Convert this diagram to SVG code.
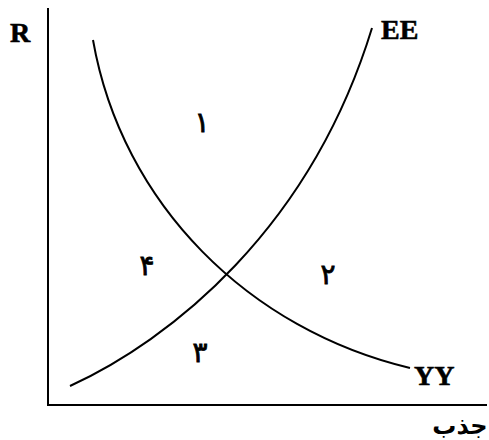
<svg xmlns="http://www.w3.org/2000/svg" width="489" height="440" viewBox="0 0 489 440">
<style>
.ln{fill:none;stroke:#000;stroke-width:2}
.lb{font-family:"Liberation Serif",serif;font-weight:bold;font-size:28px;fill:#000;stroke:#000;stroke-width:0.6}
.num{font-family:"DejaVu Sans","Noto Sans",sans-serif;font-size:28px;fill:#000;stroke:#000;stroke-width:0.8}
</style>
<rect width="489" height="440" fill="#fff"/>
<g id="axes">
<path class="ln" d="M48,8 V405 H487"/>
</g>
<g id="connectors">
<path id="YY-curve" class="ln" d="M93,40 C122,205 250,330 410,368"/>
<path id="EE-curve" class="ln" d="M70,386 C170,340 310,230 372,28"/>
</g>
<g id="labels">
<text class="lb" x="10" y="42">R</text>
<text class="lb" x="381" y="39">EE</text>
<text class="lb" x="414" y="385">YY</text>
<text x="460" y="434" font-family="DejaVu Sans,sans-serif" font-weight="bold" font-size="24" direction="rtl" text-anchor="middle">جذب</text>
<text class="num" x="202" y="132" text-anchor="middle">۱</text>
<text class="num" x="147" y="275" text-anchor="middle">۴</text>
<text class="num" x="328" y="284" text-anchor="middle">۲</text>
<text class="num" x="200" y="362" text-anchor="middle">۳</text>
</g>
</svg>
